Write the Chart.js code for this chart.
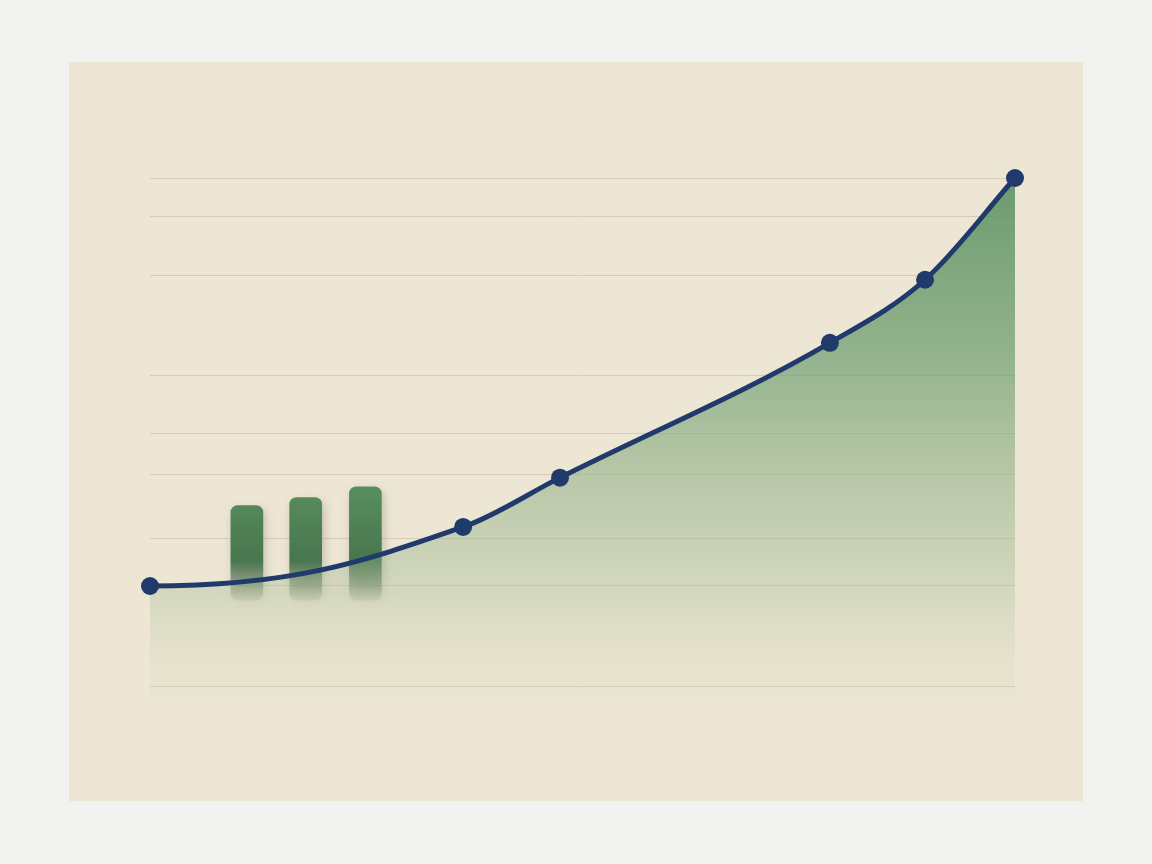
<!DOCTYPE html>
<html><head><meta charset="utf-8">
<script src="https://cdn.jsdelivr.net/npm/chart.js@4"></script>
<style>
html,body{margin:0;padding:0;background:#f2f2f1;}
#panel{position:absolute;left:69px;top:62px;width:1014px;height:739px;background:#ede6d5;}
#wrap{position:absolute;left:0;top:0;width:1152px;height:864px;}
</style></head><body>
<div id="panel"></div>
<div id="wrap"><canvas id="c" width="1152" height="864"></canvas></div>
<script>
// Line series (x position on 0-100 scale, value)
const lineX = [0, 36.2, 47.4, 78.6, 89.6, 100];
const lineY = [19.8, 31.4, 41.1, 67.6, 80.0, 100];
// Floating bars: x position, bottom value, top value
const barX = [11.2, 18.0, 24.9];
const barBottom = [17.0, 17.0, 17.0];
const barTop = [35.6, 37.2, 39.3];
// Irregular horizontal grid-line values
const gridValues = [0, 19.8, 29.1, 41.7, 49.8, 61.1, 80.8, 92.5, 100];

const ctx = document.getElementById('c').getContext('2d');

function areaGradient(chart){
  const a = chart.chartArea;
  if(!a) return 'rgba(107,154,110,0.5)';
  const g = chart.ctx.createLinearGradient(0, a.top, 0, a.bottom);
  g.addColorStop(0, 'rgba(100,150,104,0.95)');
  g.addColorStop(0.35, 'rgba(110,158,112,0.7)');
  g.addColorStop(0.75, 'rgba(150,180,135,0.35)');
  g.addColorStop(1, 'rgba(200,210,170,0.05)');
  return g;
}
function barGradient(chart){
  const a = chart.chartArea;
  if(!a) return '#5a8f5e';
  const y = chart.scales.y;
  const g = chart.ctx.createLinearGradient(0, y.getPixelForValue(39.3), 0, y.getPixelForValue(17));
  g.addColorStop(0, 'rgba(88,142,94,1)');
  g.addColorStop(0.65, 'rgba(72,118,78,1)');
  g.addColorStop(0.85, 'rgba(90,120,90,0.55)');
  g.addColorStop(1, 'rgba(120,140,110,0.15)');
  return g;
}

const shadowPlugin = {
  id:'shadow',
  beforeDatasetsDraw(chart){
    // flatten the start tangent of the curve (it leaves the first point horizontally)
    const meta = chart.getDatasetMeta(0);
    const line = meta.dataset;
    line.updateControlPoints(chart.chartArea, 'x');
    const p = meta.data;
    if(p.length > 1){
      p[0].cp2x = p[0].x + (p[1].x - p[0].x) * 0.45;
      p[0].cp2y = p[0].y;
    }
  },
  beforeDatasetDraw(chart, args){
    if(args.index === 1){
      chart.ctx.save();
      chart.ctx.shadowColor = 'rgba(60,60,40,0.25)';
      chart.ctx.shadowBlur = 10;
      chart.ctx.shadowOffsetX = 2;
      chart.ctx.shadowOffsetY = 4;
    }
  },
  afterDatasetDraw(chart, args){
    if(args.index === 1) chart.ctx.restore();
  }
};

new Chart(ctx, {
  data: {
    datasets: [
      {
        type:'line',
        data: lineX.map((x,i)=>({x, y: lineY[i]})),
        borderColor:'#1f3a6b',
        borderWidth:5,
        pointRadius:9,
        pointBackgroundColor:'#1f3a6b',
        pointBorderWidth:0,
        cubicInterpolationMode:'monotone',
        fill:{target:{value:-3.2}},
        backgroundColor:(c)=>areaGradient(c.chart),
        clip:false,
        order:0
      },
      {
        type:'bar',
        data: barX.map((x,i)=>({x, y:[barBottom[i], barTop[i]]})),
        backgroundColor:(c)=>barGradient(c.chart),
        barThickness:32,
        borderRadius:7,
        borderSkipped:false,
        order:1
      }
    ]
  },
  options: {
    responsive:false,
    animation:false,
    layout:{padding:{left:150, right:137, top:178, bottom:161}},
    plugins:{legend:{display:false}, tooltip:{enabled:false}},
    scales:{
      x:{type:'linear', min:0, max:100, offset:false, display:false, grid:{display:false}},
      y:{
        type:'linear', min:-3.2, max:100,
        ticks:{display:false},
        border:{display:false},
        grid:{color:'rgba(200,188,160,0.6)', lineWidth:1, drawTicks:false},
        afterBuildTicks(ax){ ax.ticks = gridValues.map(v=>({value:v})); }
      }
    }
  },
  plugins:[shadowPlugin]
});
</script>
</body></html>
